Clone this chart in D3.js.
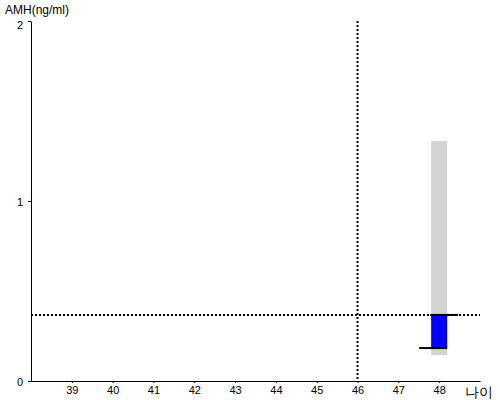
<!DOCTYPE html>
<html><head><meta charset="utf-8">
<script src="https://cdn.jsdelivr.net/npm/d3@7"></script>
<style>body{margin:0;background:#fff}text{font-family:Arial,"Liberation Sans",sans-serif;fill:#000}</style>
</head><body>
<svg id="c" width="500" height="400"></svg>
<script>
const xTicks = [39,40,41,42,43,44,45,46,47,48];
const yTicks = [0,1,2];
const ages = [48];
const rangeLow = [0.144];
const rangeHigh = [1.333];
const amhPrev = [0.183];
const amhCur = [0.367];
const refAge = 46;
const refAmh = 0.367;

const svg = d3.select("#c");
const x = d3.scaleLinear().domain([38,49]).range([31,480]);
const y = d3.scaleLinear().domain([0,2]).range([381,21]);
const bw = 16;

svg.selectAll(".range").data(ages).join("rect")
  .attr("x", (d)=>x(d)-bw/2).attr("width", bw)
  .attr("y", (d,i)=>y(rangeHigh[i])).attr("height",(d,i)=>y(rangeLow[i])-y(rangeHigh[i]))
  .attr("fill","#d3d3d3");
svg.selectAll(".chg").data(ages).join("rect")
  .attr("x", (d)=>x(d)-bw/2).attr("width", bw)
  .attr("y", (d,i)=>y(amhCur[i])).attr("height",(d,i)=>y(amhPrev[i])-y(amhCur[i]))
  .attr("fill","#0000ff");

svg.append("line").attr("x1",x(refAge)).attr("x2",x(refAge)).attr("y1",y(2)).attr("y2",y(0))
  .attr("stroke","#000").attr("stroke-width",2).attr("stroke-dasharray","2,2");
svg.append("line").attr("x1",x(38)).attr("x2",x(49)).attr("y1",y(refAmh)).attr("y2",y(refAmh))
  .attr("stroke","#000").attr("stroke-width",2).attr("stroke-dasharray","2,2");

svg.selectAll(".cur").data(ages).join("line")
  .attr("x1",d=>x(d)-bw/2-1).attr("x2",d=>x(d)+bw/2+11)
  .attr("y1",(d,i)=>y(amhCur[i])).attr("y2",(d,i)=>y(amhCur[i]))
  .attr("stroke","#000").attr("stroke-width",2);
svg.selectAll(".prev").data(ages).join("line")
  .attr("x1",d=>x(d)-bw/2-12).attr("x2",d=>x(d)+bw/2)
  .attr("y1",(d,i)=>y(amhPrev[i])).attr("y2",(d,i)=>y(amhPrev[i]))
  .attr("stroke","#000").attr("stroke-width",2);

const xa = svg.append("g").attr("transform","translate(0,381)")
  .call(d3.axisBottom(x).tickValues(xTicks).tickSize(2).tickPadding(3).tickSizeOuter(0));
xa.select(".domain").attr("stroke","#000");
xa.selectAll("text").attr("font-size","11px").attr("fill","#000");
const ya = svg.append("g").attr("transform","translate(31,0)")
  .call(d3.axisLeft(y).tickValues(yTicks).tickFormat(d3.format("d")).tickSize(3).tickPadding(5).tickSizeOuter(0));
ya.select(".domain").attr("stroke","#000");
ya.selectAll("text").attr("font-size","11px").attr("fill","#000")
  .attr("dy", d => d === 2 ? "0.7em" : "0.42em");

svg.append("text").attr("x",5).attr("y",14).attr("font-size","12px").text("AMH(ng/ml)");
svg.append("text").attr("x",465).attr("y",397).attr("font-size","14px").text("나이");
</script>
</body></html>
